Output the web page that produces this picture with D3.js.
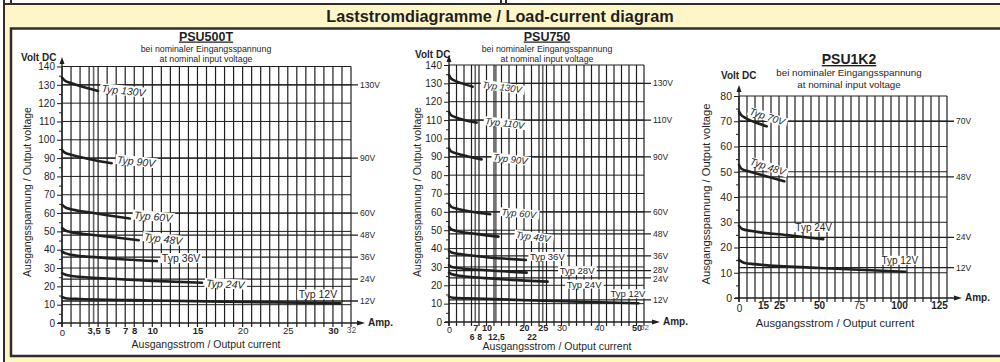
<!DOCTYPE html>
<html>
<head>
<meta charset="utf-8">
<script src="https://cdn.jsdelivr.net/npm/d3@7"></script>
<style>
  body { margin: 0; background: #fff; }
  svg { display: block; font-family: "Liberation Sans", Arial, sans-serif; }
</style>
</head>
<body>
<svg id="chart" width="1000" height="362"></svg>
<script>
// ---- PSU500T : output voltage (V) against output current (A) ----
const psu500Nominal = [130, 90, 60, 48, 36, 24, 12];
const psu500Series = [
  { name: "Typ 130V", values: [[0, 134], [0.3, 132.4], [1, 131], [2, 129.4], [3, 128], [4, 126.6]] },
  { name: "Typ 90V",  values: [[0, 94.5], [0.3, 93], [1, 91.8], [2, 90.6], [3.5, 89], [5.5, 87.2]] },
  { name: "Typ 60V",  values: [[0, 64.5], [0.4, 63], [1, 62.1], [3, 60.4], [5, 58.8], [7.5, 57]] },
  { name: "Typ 48V",  values: [[0, 51.8], [0.4, 50.4], [1, 49.6], [3, 48.3], [6, 46.7], [8.5, 45.2]] },
  { name: "Typ 36V",  values: [[0, 39], [0.4, 38], [1, 37.3], [4, 35.8], [7, 34.7], [10.5, 33.8]] },
  { name: "Typ 24V",  values: [[0, 27.2], [0.4, 26.3], [1, 25.7], [5, 24.3], [10, 23], [15.5, 22]] },
  { name: "Typ 12V",  values: [[0, 14.2], [0.5, 13.4], [2, 13.1], [10, 12.3], [20, 11.5], [30.8, 10.7]] }
];
const psu500XTicks = [0, 3.5, 5, 7, 8, 10, 15, 20, 25, 30, 32];
const psu500XBold = [3.5, 5, 7, 8, 10, 15, 30];

// ---- PSU750 ----
const psu750Nominal = [130, 110, 90, 60, 48, 36, 28, 24, 12];
const psu750Series = [
  { name: "Typ 130V", values: [[0, 134.5], [0.4, 133], [1.5, 131.5], [3.5, 130], [6.3, 128.2]] },
  { name: "Typ 110V", values: [[0, 114.5], [0.4, 113], [2, 111.3], [4.5, 109.8], [7.4, 108.6]] },
  { name: "Typ 90V",  values: [[0, 94.6], [0.5, 93], [2, 91.8], [5, 90.2], [8.7, 88.6]] },
  { name: "Typ 60V",  values: [[0, 64.3], [0.6, 62.8], [2, 61.8], [6, 60.1], [11, 58.7]] },
  { name: "Typ 48V",  values: [[0, 51.9], [0.6, 50.4], [2, 49.6], [7, 48], [13.2, 46.5]] },
  { name: "Typ 36V",  values: [[0, 38.8], [0.7, 37.9], [3, 37], [10, 35.3], [20.5, 33.8]] },
  { name: "Typ 28V",  values: [[0, 31], [0.7, 30], [3, 29.3], [10, 28.2], [20.7, 26.9]] },
  { name: "Typ 24V",  values: [[0, 26.9], [0.8, 26], [3, 25.2], [12, 23.6], [26.3, 22]] },
  { name: "Typ 12V",  values: [[0, 13.8], [1, 13.2], [5, 12.9], [25, 11.6], [50.5, 10.2]] }
];
const psu750XTicksTop = [0, 7, 10, 20, 25, 30, 40, 50, 52];
const psu750XTicksLow = [6, 8, 12.5, 22];
const psu750XBold = [6, 7, 8, 10, 12.5, 20, 22, 25, 50];

// ---- PSU1K2 ----
const psu1k2Nominal = [70, 48, 24, 12];
const psu1k2Series = [
  { name: "Typ 70V", values: [[0, 73.9], [1, 72.8], [4, 71.3], [10, 69.6], [17.3, 68]] },
  { name: "Typ 48V", values: [[0, 52.8], [1.5, 51.2], [6, 50.2], [17, 48.2], [28.3, 46.2]] },
  { name: "Typ 24V", values: [[0, 28.6], [2, 27.3], [8, 26.5], [30, 24.9], [52.7, 23.3]] },
  { name: "Typ 12V", values: [[0, 15.1], [3, 14], [10, 13.4], [50, 11.9], [104, 10.4]] }
];
const psu1k2XTicks = [0, 15, 25, 50, 75, 100, 125];
const psu1k2XBold = [15, 25, 50, 100, 125];

// ---- drawing ----
const font = '"Liberation Sans", Arial, sans-serif';
const ink = "#1f1f1f";
const frame = "#2e2e2e";
const paper = "#fff6c8";

const svg = d3.select("#chart");

// frame and title band
svg.append("rect").attr("width", 1000).attr("height", 362).attr("fill", "#fff");
svg.append("rect").attr("x", 5).attr("y", 4).attr("width", 1000).attr("height", 360).attr("fill", paper);
svg.append("rect").attr("x", 11).attr("y", -6).attr("width", 490).attr("height", 10)
  .attr("fill", "#fff").attr("stroke", frame).attr("stroke-width", 2);
svg.append("rect").attr("x", 506).attr("y", -6).attr("width", 520).attr("height", 10)
  .attr("fill", "#fff").attr("stroke", frame).attr("stroke-width", 2);
svg.append("line").attr("x1", 4).attr("x2", 4).attr("y1", 0).attr("y2", 362)
  .attr("stroke", frame).attr("stroke-width", 2);
svg.append("line").attr("x1", 4).attr("x2", 1000).attr("y1", 4).attr("y2", 4)
  .attr("stroke", frame).attr("stroke-width", 2);
svg.append("rect").attr("x", 11).attr("y", 28.5).attr("width", 1000).attr("height", 327.5)
  .attr("fill", "#fff").attr("stroke", frame).attr("stroke-width", 2.5);

svg.append("text")
  .attr("x", 500).attr("y", 22)
  .attr("text-anchor", "middle")
  .attr("font-size", 16.3).attr("font-weight", "bold").attr("fill", ink)
  .text("Laststromdiagramme / Load-current diagram");

const fmt = d => String(d).replace(".", ",");

function drawPanel(p) {
  const x = d3.scaleLinear().domain([0, p.xMax]).range([p.left, p.right]);
  const y = d3.scaleLinear().domain([0, p.yMax]).range([p.bottom, p.top]);
  const g = svg.append("g");

  // grid
  g.append("g").selectAll("line").data(p.xGrid).join("line")
    .attr("x1", d => x(d)).attr("x2", d => x(d))
    .attr("y1", y(0) + 4).attr("y2", y(p.yMax))
    .attr("stroke", ink).attr("stroke-width", 1.2);
  g.append("g").selectAll("line").data(p.xExtra).join("line")
    .attr("x1", d => x(d)).attr("x2", d => x(d))
    .attr("y1", y(0)).attr("y2", y(p.yMax))
    .attr("stroke", "#666").attr("stroke-width", 1.6);
  g.append("g").selectAll("line").data(p.yGrid).join("line")
    .attr("x1", x(0)).attr("x2", x(p.xMax))
    .attr("y1", d => y(d)).attr("y2", d => y(d))
    .attr("stroke", ink).attr("stroke-width", 1);

  // nominal voltage lines with labels on the right
  g.append("g").selectAll("line").data(p.nominal).join("line")
    .attr("x1", x(0)).attr("x2", x(p.xMax) + 7)
    .attr("y1", d => y(d)).attr("y2", d => y(d))
    .attr("stroke", ink).attr("stroke-width", 1.3);
  g.append("g").selectAll("text").data(p.nominal).join("text")
    .attr("x", x(p.xMax) + 9).attr("y", d => y(d) + (p.nudge[d] || 0)).attr("dy", "0.35em")
    .attr("font-size", 8.5).attr("fill", ink)
    .text(d => d + "V");

  // y axis
  const yAx = g.append("g").attr("transform", "translate(" + x(0) + ",0)")
    .call(d3.axisLeft(y).tickValues(d3.range(0, p.yMax + 1, 5))
      .tickFormat(d => d % 10 ? "" : d).tickSize(5).tickPadding(2).tickSizeOuter(0));
  yAx.attr("font-family", font).attr("font-size", p.yFont);
  yAx.select(".domain").remove();
  yAx.selectAll(".tick line").attr("stroke", ink).attr("x2", d => d % 10 ? -3 : -5);
  yAx.selectAll(".tick text").attr("fill", ink);

  g.append("line")
    .attr("x1", x(0)).attr("x2", x(0))
    .attr("y1", y(0) + 4).attr("y2", p.arrowTop + 4)
    .attr("stroke", ink).attr("stroke-width", 1.3);
  g.append("path")
    .attr("d", "M" + (x(0) - 2.5) + "," + (p.arrowTop + 7) + "L" + x(0) + "," + p.arrowTop + "L" + (x(0) + 2.5) + "," + (p.arrowTop + 7) + "Z")
    .attr("fill", ink);

  // x axis line and arrow
  const xEnd = x(p.xMax) + p.arrowLen;
  g.append("line")
    .attr("x1", x(0) - 4).attr("x2", xEnd - 4)
    .attr("y1", y(0)).attr("y2", y(0))
    .attr("stroke", ink).attr("stroke-width", 1.3);
  g.append("path")
    .attr("d", "M" + (xEnd - 8) + "," + (y(0) - 2.5) + "L" + xEnd + "," + y(0) + "L" + (xEnd - 8) + "," + (y(0) + 2.5) + "Z")
    .attr("fill", ink);
  g.append("text")
    .attr("x", xEnd + 3).attr("y", y(0) + p.ampDy)
    .attr("font-size", 10).attr("font-weight", "bold").attr("fill", ink)
    .text("Amp.");

  // x tick labels, one axis per row
  p.xRows.forEach(row => {
    const ax = g.append("g").attr("transform", "translate(0," + y(0) + ")")
      .call(d3.axisBottom(x).tickValues(row.ticks).tickFormat(fmt).tickSize(0).tickPadding(row.pad));
    ax.attr("font-family", font).attr("font-size", row.font);
    ax.select(".domain").remove();
    ax.selectAll(".tick text")
      .attr("fill", d => d === p.xMax ? "#555" : ink)
      .attr("font-size", d => d === p.xMax ? row.font - 1 : row.font)
      .attr("font-weight", d => p.xBold.includes(d) ? "bold" : "normal")
      .attr("dy", d => d === 0 ? "0.95em" : "0.71em");
  });

  // curves
  const line = d3.line().x(d => x(d[0])).y(d => y(d[1])).curve(d3.curveMonotoneX);
  g.append("g").selectAll("path").data(p.series).join("path")
    .attr("d", d => line(d.values))
    .attr("fill", "none").attr("stroke", ink)
    .attr("stroke-width", 2.6).attr("stroke-linecap", "round");

  // curve labels, white box knocks out the grid
  p.series.forEach((s, i) => {
    const L = p.labels[i];
    const end = s.values[s.values.length - 1];
    const lg = g.append("g")
      .attr("transform", "translate(" + (x(end[0]) + L[0]) + "," + (y(end[1]) + L[1]) + ") rotate(" + L[2] + ")");
    const t = lg.append("text")
      .attr("text-anchor", L[3] || "start")
      .attr("font-size", p.labelFont)
      .attr("font-style", L[2] ? "italic" : "normal")
      .attr("fill", ink)
      .text(s.name);
    const bb = t.node().getBBox();
    lg.insert("rect", "text")
      .attr("x", bb.x - 1.5).attr("y", bb.y + 1)
      .attr("width", bb.width + 3).attr("height", bb.height - 2)
      .attr("fill", "#fff");
  });

  // titles
  g.append("text")
    .attr("x", p.cx).attr("y", p.titleY)
    .attr("text-anchor", "middle").attr("font-size", p.titleFont).attr("font-weight", "bold")
    .attr("text-decoration", "underline").attr("fill", ink)
    .text(p.title);
  g.append("text")
    .attr("x", p.cx).attr("y", p.sub1Y)
    .attr("text-anchor", "middle").attr("font-size", p.subFont).attr("fill", ink)
    .text("bei nominaler Eingangsspannung");
  g.append("text")
    .attr("x", p.cx).attr("y", p.sub2Y)
    .attr("text-anchor", "middle").attr("font-size", p.subFont).attr("fill", ink)
    .text("at nominal input voltage");
  g.append("text")
    .attr("x", p.voltX).attr("y", p.voltY)
    .attr("font-size", 10).attr("font-weight", "bold").attr("fill", ink)
    .text("Volt DC");
  g.append("text")
    .attr("transform", "translate(" + p.yTitleX + "," + p.yTitleY + ") rotate(-90)")
    .attr("text-anchor", "middle").attr("font-size", p.axisFont).attr("fill", ink)
    .text("Ausgangsspannung / Output voltage");
  g.append("text")
    .attr("x", p.xTitleX).attr("y", p.xTitleY)
    .attr("text-anchor", "middle").attr("font-size", p.axisFont).attr("fill", ink)
    .text("Ausgangsstrom / Output current");
}

drawPanel({
  title: "PSU500T", cx: 206, titleY: 40.5, titleFont: 12.5, subFont: 8.8, sub1Y: 51.5, sub2Y: 61.8,
  left: 62, right: 351, bottom: 323, top: 66.5, xMax: 32, yMax: 140,
  xGrid: d3.range(0, 33, 1), xExtra: [3.5], yGrid: d3.range(10, 141, 10),
  nominal: psu500Nominal, nudge: {}, series: psu500Series,
  labels: [[3, 1, 6], [5, 0, 6], [4, 0, 5], [5, 0, 7], [5, 1, 0], [4, 4, 3], [-3, -5, 0, "end"]],
  labelFont: 10.5, yFont: 10,
  xRows: [{ ticks: psu500XTicks, pad: 4, font: 9.5 }], xBold: psu500XBold,
  arrowTop: 57, arrowLen: 14, ampDy: 3,
  voltX: 21, voltY: 61, yTitleX: 31, yTitleY: 192, xTitleX: 206, xTitleY: 348, axisFont: 10.5
});

drawPanel({
  title: "PSU750", cx: 547, titleY: 40.5, titleFont: 12.5, subFont: 8.8, sub1Y: 51.5, sub2Y: 61.8,
  left: 449, right: 644, bottom: 322, top: 65, xMax: 52, yMax: 140,
  xGrid: d3.range(0, 53, 2), xExtra: [7, 12.5, 25], yGrid: d3.range(10, 141, 10),
  nominal: psu750Nominal, nudge: { 28: -1, 24: 1.5 }, series: psu750Series,
  labels: [[9, 1, 8], [8, 1.5, 7], [11, 1, 7], [11, 1, 5], [17, 1, 8], [4, 0, 0], [33, 1.5, 0], [19, 6, 0], [7, -6, 0, "end"]],
  labelFont: 9.5, yFont: 10,
  xRows: [{ ticks: psu750XTicksTop, pad: 2.5, font: 9 }, { ticks: psu750XTicksLow, pad: 11.5, font: 8.5 }], xBold: psu750XBold,
  arrowTop: 55, arrowLen: 16, ampDy: 3,
  voltX: 415, voltY: 58, yTitleX: 421, yTitleY: 192, xTitleX: 557, xTitleY: 350, axisFont: 10.5
});

drawPanel({
  title: "PSU1K2", cx: 849, titleY: 64, titleFont: 14, subFont: 9.8, sub1Y: 76, sub2Y: 87.5,
  left: 739, right: 947, bottom: 298, top: 96, xMax: 130, yMax: 80,
  xGrid: d3.range(0, 131, 5), xExtra: [], yGrid: d3.range(10, 81, 10),
  nominal: psu1k2Nominal, nudge: {}, series: psu1k2Series,
  labels: [[-18, -12, 18], [-35, -17, 18], [-28, -8, 0], [-24, -8, 0]],
  labelFont: 10, yFont: 10.5,
  xRows: [{ ticks: psu1k2XTicks, pad: 4, font: 10 }], xBold: psu1k2XBold,
  arrowTop: 85, arrowLen: 15, ampDy: 3,
  voltX: 721, voltY: 79, yTitleX: 710, yTitleY: 194, xTitleX: 835, xTitleY: 327, axisFont: 11.2
});
</script>
</body>
</html>
